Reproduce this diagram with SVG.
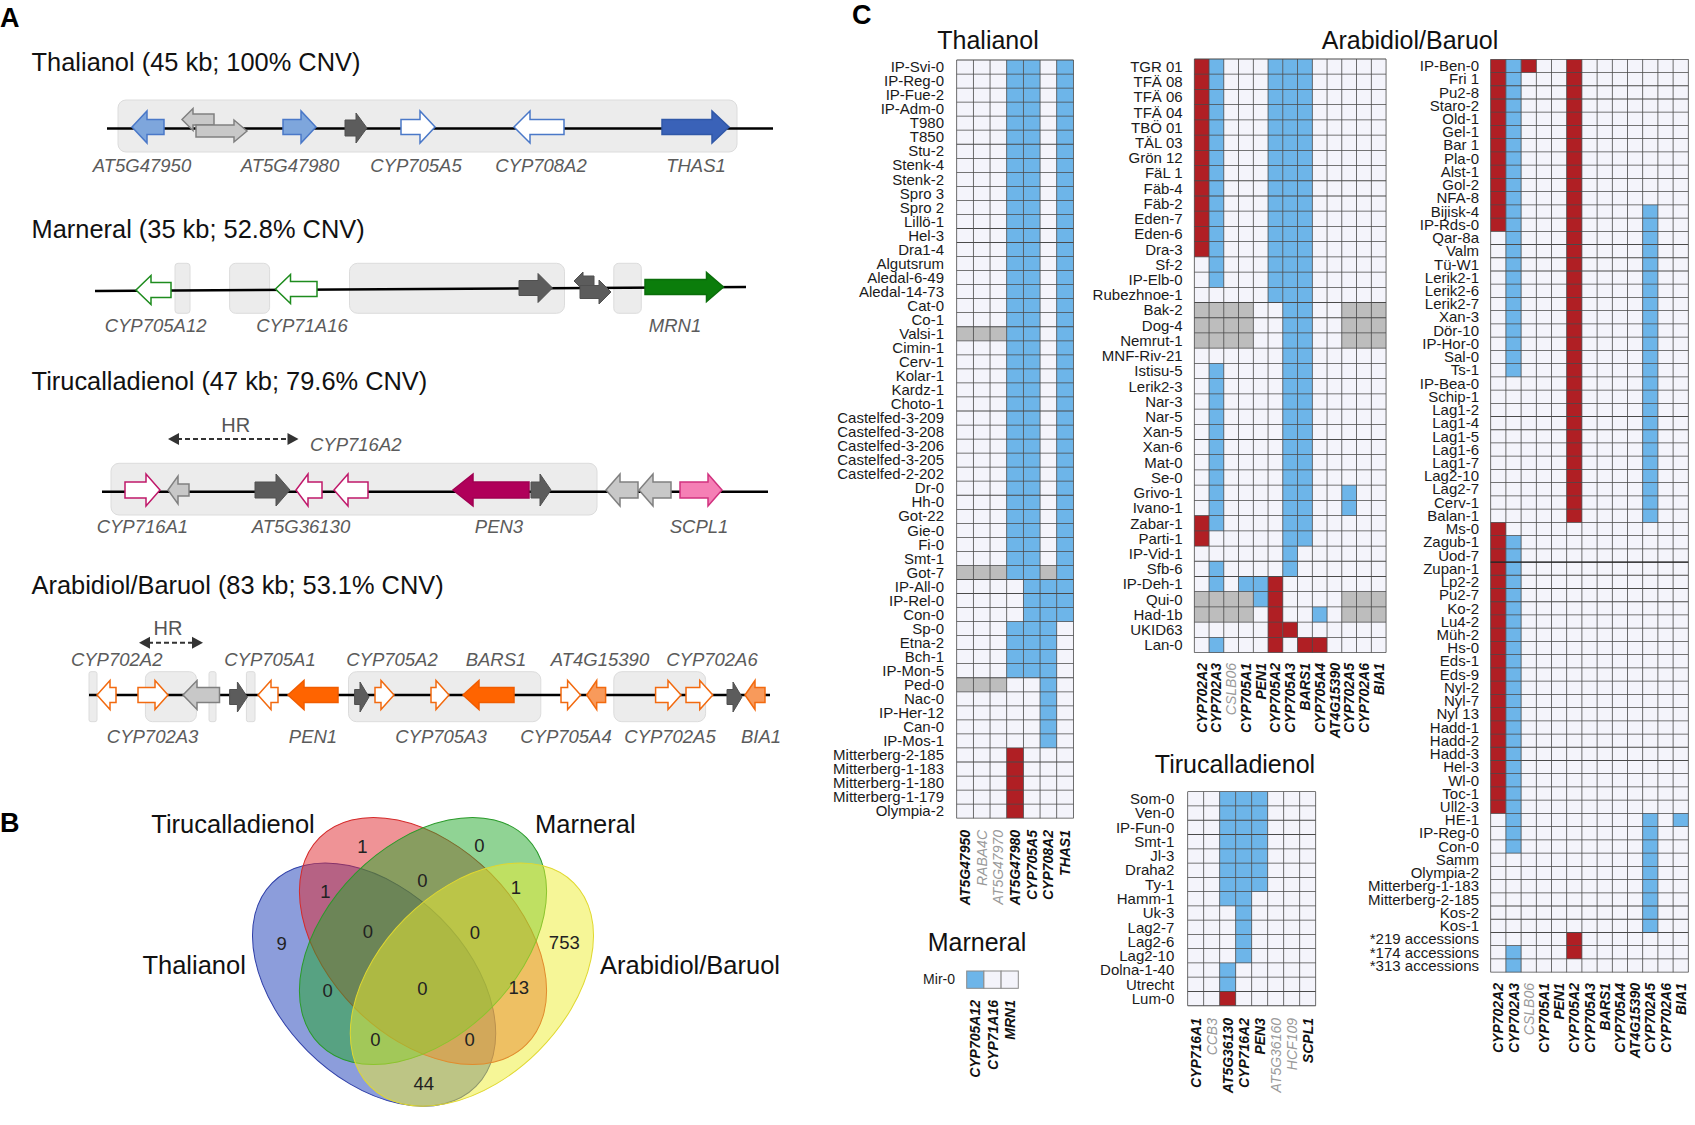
<svg xmlns="http://www.w3.org/2000/svg" width="1695" height="1125" viewBox="0 0 1695 1125">
<style>
text{font-family:"Liberation Sans",Arial,sans-serif}
.pl{font-size:27px;font-weight:bold;fill:#000}
.tt{font-size:25.4px;fill:#111}
.gl{font-size:18.5px;font-style:italic;fill:#5b5b5b;text-anchor:middle}
.hr{font-size:20px;fill:#555;text-anchor:middle}
.ht{font-size:25px;fill:#111;text-anchor:middle}
.rl{font-size:15px;fill:#1a1a1a;text-anchor:end}
.cl{font-size:14px;font-weight:bold;font-style:italic;fill:#111;text-anchor:end}
.cg{font-weight:normal;fill:#9a9a9a}
.vl{font-size:25.5px;fill:#111}
.vn{font-size:18.5px;fill:#222;text-anchor:middle}
.box{fill:#ececec;stroke:#dcdcdc;stroke-width:1}
.trk{stroke:#000;stroke-width:2.5;fill:none}
.e{fill:#f4f4fb}
.b{fill:#6db5e9}
.r{fill:#b01f24}
.g{fill:#bdbdbd}
.gr{stroke:#4a4a4a;fill:none}
.lb{fill:#7ea6dc;stroke:#4a78c8;stroke-width:1.5}
.wb{fill:#fff;stroke:#4a78c8;stroke-width:1.5}
.db{fill:#3a62b8;stroke:#3058a8;stroke-width:1.5}
.dg{fill:#5c5c5c;stroke:#505050;stroke-width:1}
.lg{fill:#c8c8c8;stroke:#808080;stroke-width:1.5}
.wg{fill:#fff;stroke:#1e8c1e;stroke-width:1.5}
.fg{fill:#0b7d0b;stroke:#0a6e0a;stroke-width:1.5}
.wm{fill:#fff;stroke:#c0186a;stroke-width:1.5}
.fm{fill:#b0005a;stroke:#a00052;stroke-width:1.5}
.pk{fill:#f57fb5;stroke:#d1327f;stroke-width:1.5}
.wo{fill:#fff;stroke:#f26a0f;stroke-width:1.5}
.fo{fill:#ff6400;stroke:#f05c00;stroke-width:1.5}
.lo{fill:#f89a5b;stroke:#f26a0f;stroke-width:1.5}
.dash{stroke:#333;stroke-width:2;stroke-dasharray:5 3;fill:none}
.ah{fill:#333}
</style>
<rect width="1695" height="1125" fill="#fff"/>

<text class="pl" x="0" y="27">A</text>
<text class="pl" x="0" y="832">B</text>
<text class="pl" x="852" y="24">C</text>

<!-- Panel A: Thalianol -->
<g id="thalianol-cluster">
<text class="tt" x="31.6" y="71">Thalianol (45 kb; 100% CNV)</text>
<rect class="box" x="118" y="100" width="619" height="52" rx="8"/>
<line class="trk" x1="107" y1="128.5" x2="773" y2="128.5"/>
<polygon class="lb" points="164,119.5 147,119.5 147,111 132,127 147,143 147,134.5 164,134.5"/>
<polygon class="lg" points="214,114 193,114 193,108.5 182,119.5 193,130.5 193,125 214,125"/>
<polygon class="lg" points="196,125 234,125 234,120 247,131 234,142 234,137 196,137"/>
<polygon class="lb" points="283,119.5 301,119.5 301,111 316,127 301,143 301,134.5 283,134.5"/>
<polygon class="dg" points="345,120 356,120 356,113 367,128 356,143 356,136 345,136"/>
<polygon class="wb" points="401,119.5 420,119.5 420,111 435,127 420,143 420,134.5 401,134.5"/>
<polygon class="wb" points="564,119.5 530,119.5 530,111 514,127 530,143 530,134.5 564,134.5"/>
<polygon class="db" points="662,119.5 712,119.5 712,111 729,127 712,143 712,134.5 662,134.5"/>
<text class="gl" x="142" y="171.7">AT5G47950</text>
<text class="gl" x="290" y="171.7">AT5G47980</text>
<text class="gl" x="416" y="171.7">CYP705A5</text>
<text class="gl" x="541" y="171.7">CYP708A2</text>
<text class="gl" x="696" y="171.7">THAS1</text>
</g>

<!-- Panel A: Marneral -->
<g id="marneral-cluster">
<text class="tt" x="31.6" y="237.7">Marneral (35 kb; 52.8% CNV)</text>
<rect class="box" x="175" y="263.3" width="15" height="50" rx="3"/>
<rect class="box" x="229.6" y="263.3" width="40" height="50" rx="6"/>
<rect class="box" x="349.5" y="263.3" width="215" height="50" rx="8"/>
<rect class="box" x="613.8" y="263.3" width="27.5" height="50" rx="5"/>
<line class="trk" x1="95" y1="291" x2="746" y2="287"/>
<polygon class="wg" points="171,282.5 151,282.5 151,275.5 136,290 151,304.5 151,297.5 171,297.5"/>
<polygon class="wg" points="317,281.5 290.5,281.5 290.5,274.5 275.5,289 290.5,303.5 290.5,296.5 317,296.5"/>
<polygon class="dg" points="519,280.5 538,280.5 538,273.5 552.5,288 538,302.5 538,295.5 519,295.5"/>
<polygon class="dg" points="594,276 583,276 583,272 574,281 583,290 583,286 594,286"/>
<polygon class="dg" points="580,285.5 599,285.5 599,280 611,292 599,304 599,298.5 580,298.5"/>
<polygon class="fg" points="645,279.5 706.5,279.5 706.5,272.5 723.5,287 706.5,301.5 706.5,294.5 645,294.5"/>
<text class="gl" x="155.6" y="331.7">CYP705A12</text>
<text class="gl" x="302" y="331.7">CYP71A16</text>
<text class="gl" x="675" y="331.7">MRN1</text>
</g>

<!-- Panel A: Tirucalladienol -->
<g id="tirucalladienol-cluster">
<text class="tt" x="31.6" y="390">Tirucalladienol (47 kb; 79.6% CNV)</text>
<text class="hr" x="235.7" y="431.7">HR</text>
<line class="dash" x1="177" y1="439" x2="289.5" y2="439"/>
<polygon class="ah" points="168,439 179,433 179,445"/>
<polygon class="ah" points="298.5,439 287.5,433 287.5,445"/>
<text class="gl" x="310" y="450.7" style="text-anchor:start">CYP716A2</text>
<rect class="box" x="111" y="463.3" width="486" height="51.7" rx="8"/>
<line class="trk" x1="102" y1="491.7" x2="768" y2="491.7"/>
<polygon class="wm" points="125,482 146,482 146,474 160,490 146,506 146,498 125,498"/>
<polygon class="lg" points="189,484 178,484 178,476 168,490 178,504 178,496 189,496"/>
<polygon class="dg" points="255,482 276,482 276,474 290,490 276,506 276,498 255,498"/>
<polygon class="wm" points="322,482 308,482 308,474 296,490 308,506 308,498 322,498"/>
<polygon class="wm" points="368,482 348,482 348,474 334,490 348,506 348,498 368,498"/>
<polygon class="fm" points="529,482 473,482 473,474 453,490 473,506 473,498 529,498"/>
<polygon class="dg" points="531,482 540,482 540,474 551,490 540,506 540,498 531,498"/>
<polygon class="lg" points="638,482 620,482 620,474 606,490 620,506 620,498 638,498"/>
<polygon class="lg" points="671,482 653,482 653,474 639,490 653,506 653,498 671,498"/>
<polygon class="pk" points="680,482 708,482 708,474 722,490 708,506 708,498 680,498"/>
<text class="gl" x="142.4" y="533.3">CYP716A1</text>
<text class="gl" x="301" y="533.3">AT5G36130</text>
<text class="gl" x="499" y="533.3">PEN3</text>
<text class="gl" x="699" y="533.3">SCPL1</text>
</g>

<!-- Panel A: Arabidiol/Baruol -->
<g id="arabidiol-cluster">
<text class="tt" x="31.6" y="594.3">Arabidiol/Baruol (83 kb; 53.1% CNV)</text>
<text class="hr" x="168" y="635">HR</text>
<line class="dash" x1="148" y1="642.7" x2="194" y2="642.7"/>
<polygon class="ah" points="139,642.7 150,636.7 150,648.7"/>
<polygon class="ah" points="203,642.7 192,636.7 192,648.7"/>
<text class="gl" x="116.7" y="666">CYP702A2</text>
<text class="gl" x="270" y="666">CYP705A1</text>
<text class="gl" x="392" y="666">CYP705A2</text>
<text class="gl" x="496" y="666">BARS1</text>
<text class="gl" x="600" y="666">AT4G15390</text>
<text class="gl" x="712" y="666">CYP702A6</text>
<rect class="box" x="89" y="671.7" width="8" height="50" rx="2"/>
<rect class="box" x="145.4" y="671.7" width="51" height="50" rx="7"/>
<rect class="box" x="209" y="671.7" width="7" height="50" rx="2"/>
<rect class="box" x="246.4" y="671.7" width="8.6" height="50" rx="2"/>
<rect class="box" x="348.5" y="671.7" width="192.3" height="50" rx="8"/>
<rect class="box" x="613.8" y="671.7" width="91.8" height="50" rx="8"/>
<line class="trk" x1="89" y1="695" x2="770" y2="695"/>
<polygon class="wo" points="116,687.5 110,687.5 110,680.5 97,695 110,709.5 110,702.5 116,702.5"/>
<polygon class="wo" points="138,687.5 155,687.5 155,680.5 168,695 155,709.5 155,702.5 138,702.5"/>
<polygon class="lg" points="219.5,687.5 197,687.5 197,680.5 183,695 197,709.5 197,702.5 219.5,702.5"/>
<polygon class="dg" points="229.6,689.5 237.4,689.5 237.4,682 247.4,697 237.4,712 237.4,704.5 229.6,704.5"/>
<polygon class="wo" points="278,687.5 271,687.5 271,680.5 258,695 271,709.5 271,702.5 278,702.5"/>
<polygon class="fo" points="338,687.5 304,687.5 304,680.5 288,695 304,709.5 304,702.5 338,702.5"/>
<polygon class="dg" points="354.6,689.5 360,689.5 360,682 369,697 360,712 360,704.5 354.6,704.5"/>
<polygon class="wo" points="375,687.5 381,687.5 381,680.5 394,695 381,709.5 381,702.5 375,702.5"/>
<polygon class="wo" points="431,687.5 436,687.5 436,680.5 449,695 436,709.5 436,702.5 431,702.5"/>
<polygon class="fo" points="514,687.5 479,687.5 479,680.5 463,695 479,709.5 479,702.5 514,702.5"/>
<polygon class="wo" points="561,687.5 567.6,687.5 567.6,680.5 580.6,695 567.6,709.5 567.6,702.5 561,702.5"/>
<polygon class="lo" points="605.6,687.5 596.7,687.5 596.7,680.5 586.7,695 596.7,709.5 596.7,702.5 605.6,702.5"/>
<polygon class="wo" points="655.6,687.5 668,687.5 668,680.5 681,695 668,709.5 668,702.5 655.6,702.5"/>
<polygon class="wo" points="686,687.5 699.8,687.5 699.8,680.5 712.8,695 699.8,709.5 699.8,702.5 686,702.5"/>
<polygon class="dg" points="727,689.5 733,689.5 733,682 742,697 733,712 733,704.5 727,704.5"/>
<polygon class="lo" points="765,687.5 755,687.5 755,680.5 745,695 755,709.5 755,702.5 765,702.5"/>
<text class="gl" x="152.6" y="742.7">CYP702A3</text>
<text class="gl" x="313" y="742.7">PEN1</text>
<text class="gl" x="441" y="742.7">CYP705A3</text>
<text class="gl" x="566" y="742.7">CYP705A4</text>
<text class="gl" x="670" y="742.7">CYP702A5</text>
<text class="gl" x="761" y="742.7">BIA1</text>
</g>

<!-- Panel B: Venn -->
<g id="venn">
<ellipse cx="374.1" cy="984.6" rx="144" ry="94" transform="rotate(45 374.1 984.6)" fill="#1a3bb8" fill-opacity="0.5" stroke="#2f3fa8"/>
<ellipse cx="423" cy="941" rx="146.3" ry="95.6" transform="rotate(45 423 941)" fill="#e0282e" fill-opacity="0.5" stroke="#d42a2a"/>
<ellipse cx="423" cy="941" rx="146.3" ry="95.6" transform="rotate(-45 423 941)" fill="#22a82a" fill-opacity="0.5" stroke="#2a9a2a"/>
<ellipse cx="471.9" cy="984.6" rx="144" ry="94" transform="rotate(-45 471.9 984.6)" fill="#eeee30" fill-opacity="0.5" stroke="#e0d830"/>
<text class="vl" x="151.3" y="833.3">Tirucalladienol</text>
<text class="vl" x="535" y="833.3">Marneral</text>
<text class="vl" x="142.4" y="974.3">Thalianol</text>
<text class="vl" x="600" y="974.3">Arabidiol/Baruol</text>
<text class="vn" x="362.5" y="853.2">1</text>
<text class="vn" x="479.5" y="851.5">0</text>
<text class="vn" x="325.4" y="897.5">1</text>
<text class="vn" x="422.3" y="886.5">0</text>
<text class="vn" x="516" y="893.8">1</text>
<text class="vn" x="281.7" y="949.8">9</text>
<text class="vn" x="367.9" y="938.2">0</text>
<text class="vn" x="475" y="939.2">0</text>
<text class="vn" x="564.3" y="949.2">753</text>
<text class="vn" x="327.7" y="997.2">0</text>
<text class="vn" x="422.3" y="994.8">0</text>
<text class="vn" x="518.8" y="993.8">13</text>
<text class="vn" x="375.4" y="1045.8">0</text>
<text class="vn" x="469.6" y="1045.8">0</text>
<text class="vn" x="423.7" y="1089.8">44</text>
</g>

<!-- Panel C: Thalianol heatmap -->
<g id="hm-thalianol">
<text class="ht" x="988" y="49">Thalianol</text>
<rect class="e" x="956.7" y="60" width="116.69" height="758.16"/>
<rect class="b" x="1006.71" y="60" width="16.67" height="519.48"/>
<rect class="b" x="1006.71" y="621.6" width="16.67" height="56.16"/>
<rect class="b" x="1023.38" y="60" width="16.67" height="617.76"/>
<rect class="b" x="1040.05" y="579.48" width="16.67" height="168.48"/>
<rect class="b" x="1056.72" y="60" width="16.67" height="561.6"/>
<rect class="g" x="956.7" y="326.76" width="50.01" height="14.04"/>
<rect class="g" x="956.7" y="565.44" width="50.01" height="14.04"/>
<rect class="g" x="1040.05" y="565.44" width="16.67" height="14.04"/>
<rect class="g" x="956.7" y="677.76" width="50.01" height="14.04"/>
<rect class="r" x="1006.71" y="747.96" width="16.67" height="70.2"/>
<line class="gr" x1="1015.05" y1="59.6" x2="1015.05" y2="818.6" stroke-width="116.69" stroke-dasharray="0.8 13.24"/>
<line class="gr" x1="956.3" y1="439.08" x2="1073.8" y2="439.08" stroke-width="758.16" stroke-dasharray="0.8 15.87"/>
<text class="rl"><tspan x="944" y="72.2">IP-Svi-0</tspan><tspan x="944" dy="14.04">IP-Reg-0</tspan><tspan x="944" dy="14.04">IP-Fue-2</tspan><tspan x="944" dy="14.04">IP-Adm-0</tspan><tspan x="944" dy="14.04">T980</tspan><tspan x="944" dy="14.04">T850</tspan><tspan x="944" dy="14.04">Stu-2</tspan><tspan x="944" dy="14.04">Stenk-4</tspan><tspan x="944" dy="14.04">Stenk-2</tspan><tspan x="944" dy="14.04">Spro 3</tspan><tspan x="944" dy="14.04">Spro 2</tspan><tspan x="944" dy="14.04">Lillö-1</tspan><tspan x="944" dy="14.04">Hel-3</tspan><tspan x="944" dy="14.04">Dra1-4</tspan><tspan x="944" dy="14.04">Algutsrum</tspan><tspan x="944" dy="14.04">Aledal-6-49</tspan><tspan x="944" dy="14.04">Aledal-14-73</tspan><tspan x="944" dy="14.04">Cat-0</tspan><tspan x="944" dy="14.04">Co-1</tspan><tspan x="944" dy="14.04">Valsi-1</tspan><tspan x="944" dy="14.04">Cimin-1</tspan><tspan x="944" dy="14.04">Cerv-1</tspan><tspan x="944" dy="14.04">Kolar-1</tspan><tspan x="944" dy="14.04">Kardz-1</tspan><tspan x="944" dy="14.04">Choto-1</tspan><tspan x="944" dy="14.04">Castelfed-3-209</tspan><tspan x="944" dy="14.04">Castelfed-3-208</tspan><tspan x="944" dy="14.04">Castelfed-3-206</tspan><tspan x="944" dy="14.04">Castelfed-3-205</tspan><tspan x="944" dy="14.04">Castelfed-2-202</tspan><tspan x="944" dy="14.04">Dr-0</tspan><tspan x="944" dy="14.04">Hh-0</tspan><tspan x="944" dy="14.04">Got-22</tspan><tspan x="944" dy="14.04">Gie-0</tspan><tspan x="944" dy="14.04">Fi-0</tspan><tspan x="944" dy="14.04">Smt-1</tspan><tspan x="944" dy="14.04">Got-7</tspan><tspan x="944" dy="14.04">IP-All-0</tspan><tspan x="944" dy="14.04">IP-Rel-0</tspan><tspan x="944" dy="14.04">Con-0</tspan><tspan x="944" dy="14.04">Sp-0</tspan><tspan x="944" dy="14.04">Etna-2</tspan><tspan x="944" dy="14.04">Bch-1</tspan><tspan x="944" dy="14.04">IP-Mon-5</tspan><tspan x="944" dy="14.04">Ped-0</tspan><tspan x="944" dy="14.04">Nac-0</tspan><tspan x="944" dy="14.04">IP-Her-12</tspan><tspan x="944" dy="14.04">Can-0</tspan><tspan x="944" dy="14.04">IP-Mos-1</tspan><tspan x="944" dy="14.04">Mitterberg-2-185</tspan><tspan x="944" dy="14.04">Mitterberg-1-183</tspan><tspan x="944" dy="14.04">Mitterberg-1-180</tspan><tspan x="944" dy="14.04">Mitterberg-1-179</tspan><tspan x="944" dy="14.04">Olympia-2</tspan></text>
<text class="cl" transform="rotate(-90)"><tspan x="-830" y="970">AT5G47950</tspan><tspan class="cg" x="-830" y="986.7">RABA4C</tspan><tspan class="cg" x="-830" y="1003.4">AT5G47970</tspan><tspan x="-830" y="1020">AT5G47980</tspan><tspan x="-830" y="1036.7">CYP705A5</tspan><tspan x="-830" y="1053.4">CYP708A2</tspan><tspan x="-830" y="1070.1">THAS1</tspan></text>
</g>

<!-- Panel C: Arabidiol/Baruol heatmap (left part) -->
<g id="hm-arabidiol-1">
<text class="ht" x="1410" y="49">Arabidiol/Baruol</text>
<rect class="e" x="1194.3" y="59" width="191.75" height="593.58"/>
<rect class="r" x="1194.3" y="59" width="14.75" height="197.86"/>
<rect class="r" x="1194.3" y="515.6" width="14.75" height="30.44"/>
<rect class="r" x="1268.05" y="576.48" width="14.75" height="76.1"/>
<rect class="r" x="1282.8" y="622.14" width="14.75" height="15.22"/>
<rect class="r" x="1297.55" y="637.36" width="29.5" height="15.22"/>
<rect class="b" x="1209.05" y="59" width="14.75" height="228.3"/>
<rect class="b" x="1209.05" y="363.4" width="14.75" height="167.42"/>
<rect class="b" x="1209.05" y="561.26" width="14.75" height="30.44"/>
<rect class="b" x="1209.05" y="637.36" width="14.75" height="15.22"/>
<rect class="b" x="1238.55" y="576.48" width="14.75" height="15.22"/>
<rect class="b" x="1253.3" y="576.48" width="14.75" height="30.44"/>
<rect class="b" x="1268.05" y="59" width="14.75" height="243.52"/>
<rect class="b" x="1282.8" y="59" width="14.75" height="517.48"/>
<rect class="b" x="1297.55" y="59" width="14.75" height="487.04"/>
<rect class="b" x="1312.3" y="606.92" width="14.75" height="15.22"/>
<rect class="b" x="1341.8" y="485.16" width="14.75" height="30.44"/>
<rect class="g" x="1194.3" y="302.52" width="59" height="45.66"/>
<rect class="g" x="1341.8" y="302.52" width="44.25" height="45.66"/>
<rect class="g" x="1194.3" y="591.7" width="59" height="30.44"/>
<rect class="g" x="1341.8" y="591.7" width="44.25" height="30.44"/>
<line class="gr" x1="1290.18" y1="58.6" x2="1290.18" y2="653" stroke-width="191.75" stroke-dasharray="0.8 14.42"/>
<line class="gr" x1="1193.9" y1="355.79" x2="1386.5" y2="355.79" stroke-width="593.58" stroke-dasharray="0.8 13.95"/>
<text class="rl"><tspan x="1182.7" y="71.9">TGR 01</tspan><tspan x="1182.7" dy="15.22">TFÄ 08</tspan><tspan x="1182.7" dy="15.22">TFÄ 06</tspan><tspan x="1182.7" dy="15.22">TFÄ 04</tspan><tspan x="1182.7" dy="15.22">TBÖ 01</tspan><tspan x="1182.7" dy="15.22">TÄL 03</tspan><tspan x="1182.7" dy="15.22">Grön 12</tspan><tspan x="1182.7" dy="15.22">FäL 1</tspan><tspan x="1182.7" dy="15.22">Fäb-4</tspan><tspan x="1182.7" dy="15.22">Fäb-2</tspan><tspan x="1182.7" dy="15.22">Eden-7</tspan><tspan x="1182.7" dy="15.22">Eden-6</tspan><tspan x="1182.7" dy="15.22">Dra-3</tspan><tspan x="1182.7" dy="15.22">Sf-2</tspan><tspan x="1182.7" dy="15.22">IP-Elb-0</tspan><tspan x="1182.7" dy="15.22">Rubezhnoe-1</tspan><tspan x="1182.7" dy="15.22">Bak-2</tspan><tspan x="1182.7" dy="15.22">Dog-4</tspan><tspan x="1182.7" dy="15.22">Nemrut-1</tspan><tspan x="1182.7" dy="15.22">MNF-Riv-21</tspan><tspan x="1182.7" dy="15.22">Istisu-5</tspan><tspan x="1182.7" dy="15.22">Lerik2-3</tspan><tspan x="1182.7" dy="15.22">Nar-3</tspan><tspan x="1182.7" dy="15.22">Nar-5</tspan><tspan x="1182.7" dy="15.22">Xan-5</tspan><tspan x="1182.7" dy="15.22">Xan-6</tspan><tspan x="1182.7" dy="15.22">Mat-0</tspan><tspan x="1182.7" dy="15.22">Se-0</tspan><tspan x="1182.7" dy="15.22">Grivo-1</tspan><tspan x="1182.7" dy="15.22">Ivano-1</tspan><tspan x="1182.7" dy="15.22">Zabar-1</tspan><tspan x="1182.7" dy="15.22">Parti-1</tspan><tspan x="1182.7" dy="15.22">IP-Vid-1</tspan><tspan x="1182.7" dy="15.22">Sfb-6</tspan><tspan x="1182.7" dy="15.22">IP-Deh-1</tspan><tspan x="1182.7" dy="15.22">Qui-0</tspan><tspan x="1182.7" dy="15.22">Had-1b</tspan><tspan x="1182.7" dy="15.22">UKID63</tspan><tspan x="1182.7" dy="15.22">Lan-0</tspan></text>
<text class="cl" transform="rotate(-90)"><tspan x="-663" y="1206.7">CYP702A2</tspan><tspan x="-663" y="1221.4">CYP702A3</tspan><tspan class="cg" x="-663" y="1236.2">CSLB06</tspan><tspan x="-663" y="1250.9">CYP705A1</tspan><tspan x="-663" y="1265.7">PEN1</tspan><tspan x="-663" y="1280.4">CYP705A2</tspan><tspan x="-663" y="1295.2">CYP705A3</tspan><tspan x="-663" y="1309.9">BARS1</tspan><tspan x="-663" y="1324.7">CYP705A4</tspan><tspan x="-663" y="1339.5">AT4G15390</tspan><tspan x="-663" y="1354.2">CYP702A5</tspan><tspan x="-663" y="1369">CYP702A6</tspan><tspan x="-663" y="1383.7">BIA1</tspan></text>
</g>

<!-- Panel C: Arabidiol/Baruol heatmap (right part) -->
<g id="hm-arabidiol-2">
<rect class="e" x="1490.7" y="59.3" width="197.6" height="912.87"/>
<rect class="r" x="1490.7" y="59.3" width="15.2" height="171.99"/>
<rect class="r" x="1490.7" y="522.35" width="15.2" height="291.06"/>
<rect class="r" x="1521.1" y="59.3" width="15.2" height="13.23"/>
<rect class="r" x="1566.7" y="59.3" width="15.2" height="463.05"/>
<rect class="r" x="1566.7" y="932.48" width="15.2" height="26.46"/>
<rect class="b" x="1505.9" y="59.3" width="15.2" height="317.52"/>
<rect class="b" x="1505.9" y="535.58" width="15.2" height="317.52"/>
<rect class="b" x="1505.9" y="945.71" width="15.2" height="26.46"/>
<rect class="b" x="1642.7" y="204.83" width="15.2" height="317.52"/>
<rect class="b" x="1642.7" y="813.41" width="15.2" height="119.07"/>
<rect class="b" x="1673.1" y="813.41" width="15.2" height="13.23"/>
<line class="gr" x1="1589.5" y1="58.9" x2="1589.5" y2="972.6" stroke-width="197.6" stroke-dasharray="0.8 12.43"/>
<line class="gr" x1="1490.3" y1="515.74" x2="1688.7" y2="515.74" stroke-width="912.87" stroke-dasharray="0.8 14.4"/>
<line x1="1490.7" y1="562.04" x2="1688.3" y2="562.04" stroke="#222" stroke-width="1.2"/>
<text class="rl"><tspan x="1479" y="71.1">IP-Ben-0</tspan><tspan x="1479" dy="13.23">Fri 1</tspan><tspan x="1479" dy="13.23">Pu2-8</tspan><tspan x="1479" dy="13.23">Staro-2</tspan><tspan x="1479" dy="13.23">Old-1</tspan><tspan x="1479" dy="13.23">Gel-1</tspan><tspan x="1479" dy="13.23">Bar 1</tspan><tspan x="1479" dy="13.23">Pla-0</tspan><tspan x="1479" dy="13.23">Alst-1</tspan><tspan x="1479" dy="13.23">Gol-2</tspan><tspan x="1479" dy="13.23">NFA-8</tspan><tspan x="1479" dy="13.23">Bijisk-4</tspan><tspan x="1479" dy="13.23">IP-Rds-0</tspan><tspan x="1479" dy="13.23">Qar-8a</tspan><tspan x="1479" dy="13.23">Valm</tspan><tspan x="1479" dy="13.23">Tü-W1</tspan><tspan x="1479" dy="13.23">Lerik2-1</tspan><tspan x="1479" dy="13.23">Lerik2-6</tspan><tspan x="1479" dy="13.23">Lerik2-7</tspan><tspan x="1479" dy="13.23">Xan-3</tspan><tspan x="1479" dy="13.23">Dör-10</tspan><tspan x="1479" dy="13.23">IP-Hor-0</tspan><tspan x="1479" dy="13.23">Sal-0</tspan><tspan x="1479" dy="13.23">Ts-1</tspan><tspan x="1479" dy="13.23">IP-Bea-0</tspan><tspan x="1479" dy="13.23">Schip-1</tspan><tspan x="1479" dy="13.23">Lag1-2</tspan><tspan x="1479" dy="13.23">Lag1-4</tspan><tspan x="1479" dy="13.23">Lag1-5</tspan><tspan x="1479" dy="13.23">Lag1-6</tspan><tspan x="1479" dy="13.23">Lag1-7</tspan><tspan x="1479" dy="13.23">Lag2-10</tspan><tspan x="1479" dy="13.23">Lag2-7</tspan><tspan x="1479" dy="13.23">Cerv-1</tspan><tspan x="1479" dy="13.23">Balan-1</tspan><tspan x="1479" dy="13.23">Ms-0</tspan><tspan x="1479" dy="13.23">Zagub-1</tspan><tspan x="1479" dy="13.23">Uod-7</tspan><tspan x="1479" dy="13.23">Zupan-1</tspan><tspan x="1479" dy="13.23">Lp2-2</tspan><tspan x="1479" dy="13.23">Pu2-7</tspan><tspan x="1479" dy="13.23">Ko-2</tspan><tspan x="1479" dy="13.23">Lu4-2</tspan><tspan x="1479" dy="13.23">Müh-2</tspan><tspan x="1479" dy="13.23">Hs-0</tspan><tspan x="1479" dy="13.23">Eds-1</tspan><tspan x="1479" dy="13.23">Eds-9</tspan><tspan x="1479" dy="13.23">Nyl-2</tspan><tspan x="1479" dy="13.23">Nyl-7</tspan><tspan x="1479" dy="13.23">Nyl 13</tspan><tspan x="1479" dy="13.23">Hadd-1</tspan><tspan x="1479" dy="13.23">Hadd-2</tspan><tspan x="1479" dy="13.23">Hadd-3</tspan><tspan x="1479" dy="13.23">Hel-3</tspan><tspan x="1479" dy="13.23">Wl-0</tspan><tspan x="1479" dy="13.23">Toc-1</tspan><tspan x="1479" dy="13.23">Ull2-3</tspan><tspan x="1479" dy="13.23">HE-1</tspan><tspan x="1479" dy="13.23">IP-Reg-0</tspan><tspan x="1479" dy="13.23">Con-0</tspan><tspan x="1479" dy="13.23">Samm</tspan><tspan x="1479" dy="13.23">Olympia-2</tspan><tspan x="1479" dy="13.23">Mitterberg-1-183</tspan><tspan x="1479" dy="13.23">Mitterberg-2-185</tspan><tspan x="1479" dy="13.23">Kos-2</tspan><tspan x="1479" dy="13.23">Kos-1</tspan><tspan x="1479" dy="13.23">*219 accessions</tspan><tspan x="1479" dy="13.23">*174 accessions</tspan><tspan x="1479" dy="13.23">*313 accessions</tspan></text>
<text class="cl" transform="rotate(-90)"><tspan x="-983" y="1503.3">CYP702A2</tspan><tspan x="-983" y="1518.5">CYP702A3</tspan><tspan class="cg" x="-983" y="1533.7">CSLB06</tspan><tspan x="-983" y="1548.9">CYP705A1</tspan><tspan x="-983" y="1564.1">PEN1</tspan><tspan x="-983" y="1579.3">CYP705A2</tspan><tspan x="-983" y="1594.5">CYP705A3</tspan><tspan x="-983" y="1609.7">BARS1</tspan><tspan x="-983" y="1624.9">CYP705A4</tspan><tspan x="-983" y="1640.1">AT4G15390</tspan><tspan x="-983" y="1655.3">CYP702A5</tspan><tspan x="-983" y="1670.5">CYP702A6</tspan><tspan x="-983" y="1685.7">BIA1</tspan></text>
</g>

<!-- Panel C: Tirucalladienol heatmap -->
<g id="hm-tirucalladienol">
<text class="ht" x="1235" y="773">Tirucalladienol</text>
<rect class="e" x="1187.7" y="791.7" width="128" height="214.05"/>
<rect class="b" x="1219.7" y="791.7" width="16" height="114.16"/>
<rect class="b" x="1219.7" y="962.94" width="16" height="28.54"/>
<rect class="b" x="1235.7" y="791.7" width="16" height="171.24"/>
<rect class="b" x="1251.7" y="791.7" width="16" height="99.89"/>
<rect class="r" x="1219.7" y="991.48" width="16" height="14.27"/>
<line class="gr" x1="1251.7" y1="791.3" x2="1251.7" y2="1006.2" stroke-width="128" stroke-dasharray="0.8 13.47"/>
<line class="gr" x1="1187.3" y1="898.73" x2="1316.1" y2="898.73" stroke-width="214.05" stroke-dasharray="0.8 15.2"/>
<text class="rl"><tspan x="1174.3" y="804.1">Som-0</tspan><tspan x="1174.3" dy="14.27">Ven-0</tspan><tspan x="1174.3" dy="14.27">IP-Fun-0</tspan><tspan x="1174.3" dy="14.27">Smt-1</tspan><tspan x="1174.3" dy="14.27">Jl-3</tspan><tspan x="1174.3" dy="14.27">Draha2</tspan><tspan x="1174.3" dy="14.27">Ty-1</tspan><tspan x="1174.3" dy="14.27">Hamm-1</tspan><tspan x="1174.3" dy="14.27">Uk-3</tspan><tspan x="1174.3" dy="14.27">Lag2-7</tspan><tspan x="1174.3" dy="14.27">Lag2-6</tspan><tspan x="1174.3" dy="14.27">Lag2-10</tspan><tspan x="1174.3" dy="14.27">Dolna-1-40</tspan><tspan x="1174.3" dy="14.27">Utrecht</tspan><tspan x="1174.3" dy="14.27">Lum-0</tspan></text>
<text class="cl" transform="rotate(-90)"><tspan x="-1018" y="1200.7">CYP716A1</tspan><tspan class="cg" x="-1018" y="1216.7">CCB3</tspan><tspan x="-1018" y="1232.7">AT5G36130</tspan><tspan x="-1018" y="1248.7">CYP716A2</tspan><tspan x="-1018" y="1264.7">PEN3</tspan><tspan class="cg" x="-1018" y="1280.7">AT5G36160</tspan><tspan class="cg" x="-1018" y="1296.7">HCF109</tspan><tspan x="-1018" y="1312.7">SCPL1</tspan></text>
</g>

<!-- Panel C: Marneral heatmap -->
<g id="hm-marneral">
<text class="ht" x="977" y="951">Marneral</text>
<rect class="b" x="966.7" y="971" width="17.2" height="17.3" stroke="#8a8a8a" stroke-width="1"/>
<rect class="e" x="983.9" y="971" width="17.2" height="17.3" stroke="#8a8a8a" stroke-width="1"/>
<rect class="e" x="1001.1" y="971" width="17.2" height="17.3" stroke="#8a8a8a" stroke-width="1"/>
<text class="rl" x="955" y="984" style="font-size:14px">Mir-0</text>
<text class="cl" transform="rotate(-90)"><tspan x="-1000" y="980.3">CYP705A12</tspan><tspan x="-1000" y="997.5">CYP71A16</tspan><tspan x="-1000" y="1014.7">MRN1</tspan></text>
</g>
</svg>
